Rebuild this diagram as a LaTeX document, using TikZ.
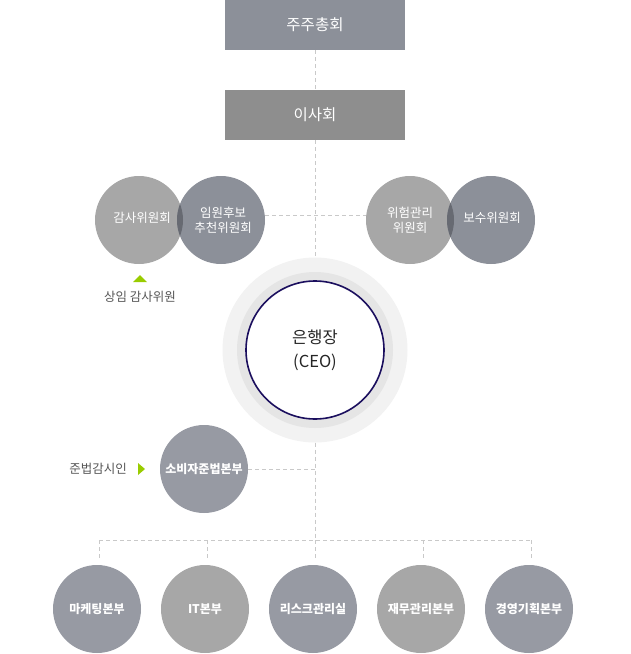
\documentclass[tikz,border=0pt]{standalone}
\usepackage{fontspec}
\setmainfont{Noto Sans CJK KR}
\usetikzlibrary{calc}
\definecolor{bluegrey}{HTML}{8C9099}
\definecolor{boardgrey}{HTML}{8E8E8E}
\definecolor{lightgrey}{HTML}{A7A7A7}
\definecolor{overlapgrey}{HTML}{676A72}
\definecolor{deptgrey}{HTML}{979AA3}
\definecolor{linegrey}{HTML}{C9C9C9}
\definecolor{accentgreen}{HTML}{99CC00}
\definecolor{labelgrey}{HTML}{555555}
\definecolor{ringouter}{HTML}{F2F2F2}
\definecolor{ringmid}{HTML}{E5E5E5}
\definecolor{navy}{HTML}{1B0F5E}
\tikzset{
  topbox/.style={rectangle, minimum width=180pt, minimum height=50pt, inner sep=0pt, text=white, font=\fontsize{15.5}{18}\selectfont},
  comm/.style={circle, minimum size=88pt, inner sep=0pt, text=white, align=center, font=\fontsize{12.5}{15}\selectfont},
  dept/.style={circle, minimum size=88pt, inner sep=0pt, text=white, align=center, font=\bfseries\fontsize{12}{14}\selectfont},
  cline/.style={draw=linegrey, line width=0.9pt, dash pattern=on 4pt off 3pt},
  sidelabel/.style={text=labelgrey, font=\fontsize{12.5}{15}\selectfont, inner sep=0pt},
}
\begin{document}
\begin{tikzpicture}[x=1pt,y=-1pt]
\useasboundingbox (0,0) rectangle (630,654);
% top boxes
\node[topbox, fill=bluegrey] (gm) at (315,25) {주주총회};
\node[topbox, fill=boardgrey] (board) at (315,115) {이사회};
% CEO rings
\node[circle, fill=ringouter, minimum size=185pt, inner sep=0pt] (ceoout) at (315,350) {};
\node[circle, fill=ringmid, minimum size=156pt, inner sep=0pt] (ceomid) at (315,350) {};
\node[circle, fill=white, draw=navy, line width=1.6pt, minimum size=138pt, inner sep=0pt, align=center, text=black!85, font=\fontsize{16.5}{24}\selectfont] (ceo) at (315,350) {은행장\\(CEO)};
% committee circles
\node[comm, fill=lightgrey] (audit) at (139,220) {};
\node[comm, fill=bluegrey] (nom) at (221,220) {};
\begin{scope}
  \clip (139,220) circle (44pt);
  \fill[overlapgrey] (221,220) circle (44pt);
\end{scope}
\node[comm] at (142,218) {감사위원회};
\node[comm] at (223,220) {임원후보\\추천위원회};
\node[comm, fill=lightgrey] (risk) at (410,220) {};
\node[comm, fill=bluegrey] (comp) at (491,220) {};
\begin{scope}
  \clip (410,220) circle (44pt);
  \fill[overlapgrey] (491,220) circle (44pt);
\end{scope}
\node[comm] at (410,220) {위험관리\\위원회};
\node[comm] at (492,218) {보수위원회};
% consumer
\node[dept, fill=deptgrey] (cons) at (204,469) {소비자준법본부};
% departments
\node[dept, fill=deptgrey] (m1) at (97,609) {마케팅본부};
\node[dept, fill=lightgrey] (m2) at (205,609) {IT본부};
\node[dept, fill=deptgrey] (m3) at (313,609) {리스크관리실};
\node[dept, fill=lightgrey] (m4) at (421,609) {재무관리본부};
\node[dept, fill=deptgrey] (m5) at (529,609) {경영기획본부};
% connectors
\coordinate (bus) at (315,540);
\coordinate (cross) at (315,215);
\draw[cline] (gm.south) -- (board.south |- gm.south) -- (board.north);
\draw[cline] (board.south) -- (ceoout.north);
\draw[cline] (nom.east |- cross) -- (risk.west |- cross);
\draw[cline] (ceoout.south) -- (bus);
\draw[cline] (cons.east) -- (cons.east -| bus);
\draw[cline] ($(m1.north |- bus)+(2,0)$) -- ($(m5.north |- bus)+(2,0)$);
\foreach \d in {m1,m2,m3,m4,m5}{
  \draw[cline] ($(\d.north |- bus)+(2,0)$) -- ($(\d.north)+(2,-5)$);
}
% side labels
\fill[accentgreen] (133,282) -- (140,275) -- (147,282) -- cycle;
\node[sidelabel] (auditlbl) at (140,297) {상임 감사위원};
\fill[accentgreen] (138,463) -- (145,469) -- (138,475) -- cycle;
\node[sidelabel] (complbl) at (98,469) {준법감시인};
\end{tikzpicture}
\end{document}
